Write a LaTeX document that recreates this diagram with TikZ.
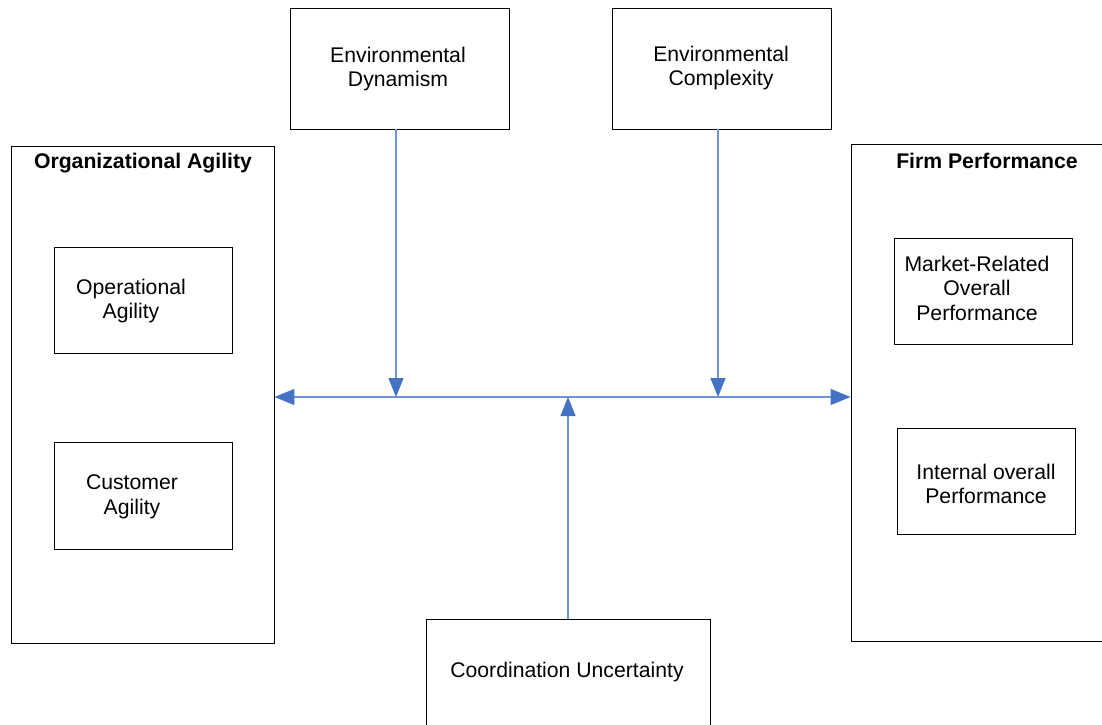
\documentclass[tikz,border=0pt]{standalone}
\usepackage{fontspec}
\setmainfont{Liberation Sans}
\usetikzlibrary{arrows.meta}
\definecolor{conn}{HTML}{4472C4}
\definecolor{connline}{HTML}{6F93D3}
\tikzset{
  box/.style={draw=black, line width=0.9pt, rectangle, inner sep=0pt, align=center,
    font=\fontsize{21.2}{24.5}\selectfont},
  ttl/.style={font=\fontsize{21.2}{24.5}\selectfont\bfseries},
  txt/.style={align=center, font=\fontsize{21.2}{24.5}\selectfont},
  link/.style={draw=connline, line width=1.3pt},
  tip/.style={-{Triangle[length=19pt,width=15pt,color=conn]}},
  tips/.style={{Triangle[length=20pt,width=16pt,color=conn]}-{Triangle[length=20pt,width=16pt,color=conn]}}
}
\begin{document}
\begin{tikzpicture}[x=1pt,y=-1pt]
\useasboundingbox (0,0) rectangle (1102,724);
\clip (0,0) rectangle (1102,724);
\fill[white] (0,0) rectangle (1102,724);
% boxes
\node[box, minimum width=219pt, minimum height=121pt] (ed) at (399.5,68.5) {};
\node[txt] (edt) at (398,69) {Environmental\\Dynamism};
\node[box, minimum width=219pt, minimum height=121pt] (ec) at (721.5,68.5) {};
\node[txt] (ect) at (721,68) {Environmental\\Complexity};
\node[box, minimum width=263pt, minimum height=497pt] (oa) at (142.5,394.5) {};
\node[ttl] (oat) at (143,163) {Organizational Agility};
\node[box, minimum width=178pt, minimum height=106pt] (opa) at (143,300) {};
\node[txt] (opat) at (131,301) {Operational\\Agility};
\node[box, minimum width=178pt, minimum height=107pt] (cua) at (143,495.5) {};
\node[txt] (cuat) at (132,497) {Customer\\Agility};
\node[box, minimum width=270pt, minimum height=497pt] (fp) at (986,392.5) {};
\node[ttl] (fpt) at (987,161) {Firm Performance};
\node[box, minimum width=178pt, minimum height=106pt] (mr) at (983,291) {};
\node[txt] (mrt) at (977,288) {Market-Related\\Overall\\Performance};
\node[box, minimum width=178pt, minimum height=106pt] (io) at (986,481) {};
\node[txt] (iot) at (986,484) {Internal overall\\Performance};
\node[box, minimum width=284pt, minimum height=130pt] (cu) at (568,684) {};
\node[txt] (cut) at (567,672) {Coordination Uncertainty};
% connectors
\coordinate (hub) at (568,397);
\coordinate (d1) at (396,397);
\coordinate (d2) at (718,397);
\draw[link, tips] (oa.east |- hub) -- (fp.west |- hub);
\draw[link, tip] (d1 |- ed.south) -- (d1);
\draw[link, tip] (d2 |- ec.south) -- (d2);
\draw[link, tip] (hub |- cu.north) -- (hub);
\end{tikzpicture}
\end{document}
